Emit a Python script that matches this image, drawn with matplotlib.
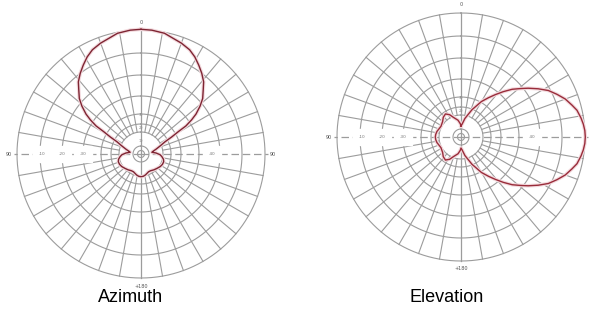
import matplotlib
matplotlib.use("Agg")
import matplotlib.pyplot as plt
import numpy as np

# azimuth pattern, half (0..180 deg clockwise from north), mirrored for the other side
az_angles = [0, 5, 11, 20, 25, 29, 33, 37, 41, 44, 48, 51, 54, 56, 58, 59, 61, 63,
             67, 72, 78, 81, 86, 92, 97, 103, 109, 116, 123, 132, 141, 150, 157,
             163, 168, 174, 180]
az_radius = [124.7, 124.3, 123, 118, 115, 111, 106, 101, 95.5, 89.6, 83, 76, 68, 61,
             53, 44, 35, 27, 21, 16, 12, 11, 15, 19, 21, 23, 24, 23.8, 23, 21.5,
             20.4, 19.3, 19.3, 20.3, 21.4, 22.4, 22.7]

# elevation pattern: main lobe 0..90 (mirrored to 180), back lobe 270..360 (mirrored to 180)
el_main_angles = [0, 5, 12, 22, 30, 35, 39, 43, 47, 51, 54, 58, 62, 66, 70, 74, 77,
                  81, 84, 87, 90]
el_main_radius = [11, 13, 19, 29.5, 41, 48, 54.5, 62, 70, 77, 83, 91, 99, 105, 111,
                  115.5, 119, 121.5, 123, 124, 124.3]
el_back_angles = [270, 276, 283, 290, 298, 310, 318, 326, 333, 339, 350, 357, 360]
el_back_radius = [25.7, 25.4, 24.7, 23.5, 22.7, 24, 26.5, 27.8, 25, 21, 17, 13.3, 11]

# grid of the chart (in the same units as the pattern)
ring_radii = [22, 30, 40, 58, 79, 101, 124]
inner_radii = [3.5, 8]
spoke_step = 10
r_max = 124

titles = ["Azimuth", "Elevation"]
edge_labels = ["0", "90", "+180", "90"]
ring_labels = ["-10", "-20", "-30"]

GRID = "#9c9c9c"
LINE = "#7e2432"


def mirrored(angles, radius, axis_deg):
    # mirror a half pattern about the axis at axis_deg
    a = np.array(angles, dtype=float)
    r = np.array(radius, dtype=float)
    a2 = 2 * axis_deg - a[::-1]
    return np.concatenate([a, a2[1:]]), np.concatenate([r, r[::-1][1:]])


def draw_grid(ax, right_label):
    th = np.linspace(0, 2 * np.pi, 721)
    for r in ring_radii + inner_radii:
        ax.plot(th, np.full_like(th, r), color=GRID, lw=0.8, clip_on=False)
    for deg in range(0, 360, spoke_step):
        if deg % 90 == 0:
            continue
        t = np.radians(deg)
        ax.plot([t, t], [ring_radii[0], r_max], color=GRID, lw=0.8, clip_on=False)
    # vertical axis solid, horizontal axis dashed
    for deg in (0, 180):
        t = np.radians(deg)
        ax.plot([t, t], [0, r_max], color=GRID, lw=0.9, clip_on=False)
    for deg in (90, 270):
        t = np.radians(deg)
        ax.plot([t, t], [0, r_max + 3], color=GRID, lw=0.9, ls=(0, (6, 3)), clip_on=False)
    # tiny edge labels
    for deg, lab in zip((0, 90, 180, 270), edge_labels):
        if deg == 90 and not right_label:
            continue
        ax.text(np.radians(deg), r_max + 8, lab, fontsize=3.5, color="#555555",
                ha="center", va="center", clip_on=False)
    for r, lab in zip((99, 79, 58), ring_labels):
        ax.text(np.radians(270), r, lab, fontsize=3, color="#777777",
                ha="center", va="center", backgroundcolor="white", clip_on=False)
    ax.text(np.radians(90), 71, "-40", fontsize=3, color="#777777",
            ha="center", va="center", backgroundcolor="white", clip_on=False)
    for r, lab in zip((13, 26, 39), ("10", "20", "30")):
        ax.text(0, r, lab, fontsize=2.5, color="#888888",
                ha="center", va="center", clip_on=False)


def setup(rect, right_label):
    ax = fig.add_axes(rect, projection="polar")
    ax.set_theta_zero_location("N")
    ax.set_theta_direction(-1)
    ax.set_ylim(0, r_max)
    ax.axis("off")
    draw_grid(ax, right_label)
    return ax


fig = plt.figure(figsize=(5.89, 3.14), dpi=100)
W, H = 589.0, 314.0

# left: azimuth, centre (141,154) px, radius 124 px
ax1 = setup([(141 - 124) / W, (H - 154 - 124) / H, 248 / W, 248 / H], True)
a, r = mirrored(az_angles, az_radius, 180)
ax1.plot(np.radians(a), r, color="#f3dade", lw=2.6, zorder=3, clip_on=False)
ax1.plot(np.radians(a), r, color=LINE, lw=1.0, zorder=4, clip_on=False)

# right: elevation, centre (461,137) px, radius 124 px
ax2 = setup([(461 - 124) / W, (H - 137 - 124) / H, 248 / W, 248 / H], False)
m_a, m_r = mirrored(el_main_angles, el_main_radius, 90)
back_a = np.array(el_back_angles, dtype=float)
back_r = np.array(el_back_radius, dtype=float)
# back lobe 180..270 is the mirror of 270..360 about the horizontal axis
full_back_a = np.concatenate([540 - back_a[::-1], back_a[1:]])
full_back_r = np.concatenate([back_r[::-1], back_r[1:]])
ea = np.concatenate([m_a, full_back_a[1:]])
er = np.concatenate([m_r, full_back_r[1:]])
ax2.plot(np.radians(ea), er, color="#f3dade", lw=2.6, zorder=3, clip_on=False)
ax2.plot(np.radians(ea), er, color="#992c3a", lw=1.0, zorder=4, clip_on=False)

fig.text(131 / W, 1 - 298 / H, titles[0], fontsize=13, family="Liberation Sans",
         ha="center", va="center")
fig.text(447 / W, 1 - 298 / H, titles[1], fontsize=13, family="Liberation Sans",
         ha="center", va="center")

plt.savefig("out.png", dpi=100)
plt.close()
